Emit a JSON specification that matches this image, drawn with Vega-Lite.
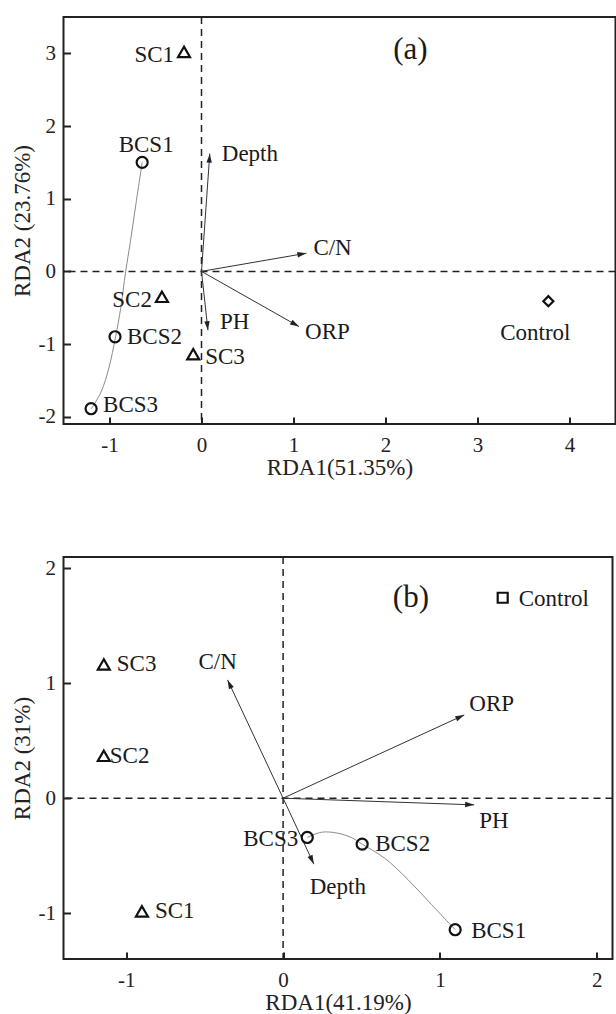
{
  "$schema": "https://vega.github.io/schema/vega-lite/v6.json",
  "background": "white",
  "padding": {"left": 9.5, "top": 15, "right": 0, "bottom": 0},
  "spacing": 75,
  "resolve": {"scale": {"shape": "independent", "size": "independent"}},
  "config": {
    "view": {"stroke": "#222", "strokeWidth": 2},
    "font": "Liberation Serif",
    "text": {"font": "Liberation Serif"},
    "axis": {"domain": false, "grid": false, "tickSize": -7, "tickWidth": 2, "tickColor": "#222", "labelFont": "Liberation Serif", "labelFontSize": 21, "labelColor": "#222", "titleFont": "Liberation Serif", "titleFontSize": 23, "titleFontWeight": "normal", "titleColor": "#222", "labelExpr": "toString(datum.value)"},
    "axisX": {"labelPadding": 17, "titlePadding": 1, "labelFont": "Liberation Serif"},
    "axisY": {"labelPadding": 15, "titlePadding": 4, "labelFont": "Liberation Serif"}
  },
  "datasets": {
    "a": [
      {"name": "SC1", "kind": "site", "type": "SC", "rda1": -0.19, "rda2": 3.02},
      {"name": "BCS1", "kind": "site", "type": "BCS", "rda1": -0.645, "rda2": 1.5},
      {"name": "SC2", "kind": "site", "type": "SC", "rda1": -0.43, "rda2": -0.35},
      {"name": "BCS2", "kind": "site", "type": "BCS", "rda1": -0.94, "rda2": -0.9},
      {"name": "SC3", "kind": "site", "type": "SC", "rda1": -0.09, "rda2": -1.14},
      {"name": "BCS3", "kind": "site", "type": "BCS", "rda1": -1.2, "rda2": -1.89},
      {"name": "Control", "kind": "site", "type": "Control", "rda1": 3.77, "rda2": -0.41},
      {"name": "Depth", "kind": "env", "type": "env", "rda1": 0.09, "rda2": 1.62},
      {"name": "C/N", "kind": "env", "type": "env", "rda1": 1.14, "rda2": 0.25},
      {"name": "PH", "kind": "env", "type": "env", "rda1": 0.07, "rda2": -0.81},
      {"name": "ORP", "kind": "env", "type": "env", "rda1": 1.06, "rda2": -0.76}
    ],
    "ac": [
      {"order": 1, "rda1": -0.645, "rda2": 1.5},
      {"order": 2, "rda1": -0.709, "rda2": 0.96},
      {"order": 3, "rda1": -0.773, "rda2": 0.41},
      {"order": 4, "rda1": -0.824, "rda2": 0.0},
      {"order": 5, "rda1": -0.879, "rda2": -0.51},
      {"order": 6, "rda1": -0.934, "rda2": -0.9},
      {"order": 7, "rda1": -1.007, "rda2": -1.33},
      {"order": 8, "rda1": -1.092, "rda2": -1.66},
      {"order": 9, "rda1": -1.198, "rda2": -1.89}
    ],
    "atag": [{"label": "(a)", "rda1": 2.27, "rda2": 3.04}],
    "b": [
      {"name": "Control", "kind": "site", "type": "Control", "rda1": 1.4, "rda2": 1.745},
      {"name": "SC3", "kind": "site", "type": "SC", "rda1": -1.143, "rda2": 1.165},
      {"name": "SC2", "kind": "site", "type": "SC", "rda1": -1.143, "rda2": 0.369},
      {"name": "SC1", "kind": "site", "type": "SC", "rda1": -0.9, "rda2": -0.985},
      {"name": "BCS3", "kind": "site", "type": "BCS", "rda1": 0.154, "rda2": -0.342},
      {"name": "BCS2", "kind": "site", "type": "BCS", "rda1": 0.504, "rda2": -0.4},
      {"name": "BCS1", "kind": "site", "type": "BCS", "rda1": 1.097, "rda2": -1.145},
      {"name": "C/N", "kind": "env", "type": "env", "rda1": -0.354, "rda2": 1.03},
      {"name": "ORP", "kind": "env", "type": "env", "rda1": 1.155, "rda2": 0.725},
      {"name": "PH", "kind": "env", "type": "env", "rda1": 1.218, "rda2": -0.058},
      {"name": "Depth", "kind": "env", "type": "env", "rda1": 0.196, "rda2": -0.574}
    ],
    "bc": [
      {"order": 1, "rda1": 0.154, "rda2": -0.342},
      {"order": 2, "rda1": 0.246, "rda2": -0.296},
      {"order": 3, "rda1": 0.346, "rda2": -0.304},
      {"order": 4, "rda1": 0.434, "rda2": -0.342},
      {"order": 5, "rda1": 0.504, "rda2": -0.4},
      {"order": 6, "rda1": 0.647, "rda2": -0.522},
      {"order": 7, "rda1": 0.797, "rda2": -0.71},
      {"order": 8, "rda1": 0.947, "rda2": -0.927},
      {"order": 9, "rda1": 1.097, "rda2": -1.145}
    ],
    "btag": [{"label": "(b)", "rda1": 0.815, "rda2": 1.745}]
  },
  "vconcat": [
    {
      "width": 552,
      "height": 407,
      "layer": [
        {"data": {"name": "ac"}, "mark": {"type": "line", "interpolate": "catmull-rom", "color": "#8a8a8a", "strokeWidth": 1},
         "encoding": {
           "x": {"field": "rda1", "type": "quantitative", "scale": {"domain": [-1.5, 4.5], "nice": false, "zero": false}, "axis": {"values": [-1, 0, 1, 2, 3, 4], "title": "RDA1(51.35%)"}},
           "y": {"field": "rda2", "type": "quantitative", "scale": {"domain": [-2.1, 3.5], "nice": false, "zero": false}, "axis": {"values": [-2, -1, 0, 1, 2, 3], "title": "RDA2 (23.76%)"}},
           "order": {"field": "order", "type": "quantitative"}}},
        {"data": {"name": "atag"}, "mark": {"type": "rule", "strokeDash": [7, 5], "strokeWidth": 1.5, "color": "#222"},
         "encoding": {"x": {"datum": 0, "type": "quantitative"}}},
        {"data": {"name": "atag"}, "mark": {"type": "rule", "strokeDash": [7, 5], "strokeWidth": 1.5, "color": "#222"},
         "encoding": {"y": {"datum": 0, "type": "quantitative"}}},
        {"data": {"name": "a"}, "transform": [{"filter": "datum.kind === 'env'"}],
         "mark": {"type": "rule", "color": "#333", "strokeWidth": 1},
         "encoding": {
           "x": {"field": "rda1", "type": "quantitative", "scale": {"domain": [-1.5, 4.5], "nice": false, "zero": false}},
           "y": {"field": "rda2", "type": "quantitative", "scale": {"domain": [-2.1, 3.5], "nice": false, "zero": false}},
           "x2": {"datum": 0}, "y2": {"datum": 0}}},
        {"data": {"name": "a"}, "transform": [{"filter": "datum.kind === 'env'"}, {"calculate": "atan2(datum.rda1 * 92, datum.rda2 * 72.68) * 180 / PI", "as": "ang"}],
         "mark": {"type": "point", "filled": true, "shape": "M0,0L0.3,1L-0.3,1Z", "size": 324, "color": "#222", "opacity": 1},
         "encoding": {
           "x": {"field": "rda1", "type": "quantitative", "scale": {"domain": [-1.5, 4.5], "nice": false, "zero": false}},
           "y": {"field": "rda2", "type": "quantitative", "scale": {"domain": [-2.1, 3.5], "nice": false, "zero": false}},
           "angle": {"field": "ang", "type": "quantitative", "scale": null}}},
        {"data": {"name": "a"}, "transform": [{"filter": "datum.kind === 'site'"}],
         "mark": {"type": "point", "filled": false, "strokeWidth": 2.2, "color": "#111", "opacity": 1},
         "encoding": {
           "x": {"field": "rda1", "type": "quantitative", "scale": {"domain": [-1.5, 4.5], "nice": false, "zero": false}},
           "y": {"field": "rda2", "type": "quantitative", "scale": {"domain": [-2.1, 3.5], "nice": false, "zero": false}},
           "shape": {"field": "type", "type": "nominal", "scale": {"domain": ["SC", "BCS", "Control"], "range": ["triangle-up", "circle", "diamond"]}, "legend": null},
           "size": {"field": "type", "type": "nominal", "scale": {"domain": ["SC", "BCS", "Control"], "range": [144, 100, 256]}, "legend": null}}},
        {"data": {"name": "a"}, "transform": [{"filter": "indexof(['SC1','SC2'], datum.name) >= 0"}],
         "mark": {"type": "text", "align": "right", "baseline": "middle", "dx": -10, "dy": 3, "fontSize": 23, "font": "Liberation Serif", "color": "#1a1a1a"},
         "encoding": {"x": {"field": "rda1", "type": "quantitative"}, "y": {"field": "rda2", "type": "quantitative"}, "text": {"field": "name"}}},
        {"data": {"name": "a"}, "transform": [{"filter": "datum.name === 'BCS1'"}],
         "mark": {"type": "text", "align": "center", "baseline": "middle", "dx": 4, "dy": -17, "fontSize": 23, "font": "Liberation Serif", "color": "#1a1a1a"},
         "encoding": {"x": {"field": "rda1", "type": "quantitative"}, "y": {"field": "rda2", "type": "quantitative"}, "text": {"field": "name"}}},
        {"data": {"name": "a"}, "transform": [{"filter": "datum.name === 'BCS2' || datum.name === 'Depth'"}],
         "mark": {"type": "text", "align": "left", "baseline": "middle", "dx": 12, "dy": 0, "fontSize": 23, "font": "Liberation Serif", "color": "#1a1a1a"},
         "encoding": {"x": {"field": "rda1", "type": "quantitative"}, "y": {"field": "rda2", "type": "quantitative"}, "text": {"field": "name"}}},
        {"data": {"name": "a"}, "transform": [{"filter": "datum.name === 'SC3'"}],
         "mark": {"type": "text", "align": "left", "baseline": "middle", "dx": 12, "dy": 3, "fontSize": 23, "font": "Liberation Serif", "color": "#1a1a1a"},
         "encoding": {"x": {"field": "rda1", "type": "quantitative"}, "y": {"field": "rda2", "type": "quantitative"}, "text": {"field": "name"}}},
        {"data": {"name": "a"}, "transform": [{"filter": "datum.name === 'BCS3'"}],
         "mark": {"type": "text", "align": "left", "baseline": "middle", "dx": 12, "dy": -4, "fontSize": 23, "font": "Liberation Serif", "color": "#1a1a1a"},
         "encoding": {"x": {"field": "rda1", "type": "quantitative"}, "y": {"field": "rda2", "type": "quantitative"}, "text": {"field": "name"}}},
        {"data": {"name": "a"}, "transform": [{"filter": "datum.name === 'Control'"}],
         "mark": {"type": "text", "align": "center", "baseline": "middle", "dx": -13, "dy": 32, "fontSize": 23, "font": "Liberation Serif", "color": "#1a1a1a"},
         "encoding": {"x": {"field": "rda1", "type": "quantitative"}, "y": {"field": "rda2", "type": "quantitative"}, "text": {"field": "name"}}},
        {"data": {"name": "a"}, "transform": [{"filter": "datum.name === 'C/N'"}],
         "mark": {"type": "text", "align": "left", "baseline": "middle", "dx": 7, "dy": -5, "fontSize": 23, "font": "Liberation Serif", "color": "#1a1a1a"},
         "encoding": {"x": {"field": "rda1", "type": "quantitative"}, "y": {"field": "rda2", "type": "quantitative"}, "text": {"field": "name"}}},
        {"data": {"name": "a"}, "transform": [{"filter": "datum.name === 'PH'"}],
         "mark": {"type": "text", "align": "left", "baseline": "middle", "dx": 12, "dy": -8, "fontSize": 23, "font": "Liberation Serif", "color": "#1a1a1a"},
         "encoding": {"x": {"field": "rda1", "type": "quantitative"}, "y": {"field": "rda2", "type": "quantitative"}, "text": {"field": "name"}}},
        {"data": {"name": "a"}, "transform": [{"filter": "datum.name === 'ORP'"}],
         "mark": {"type": "text", "align": "left", "baseline": "middle", "dx": 6, "dy": 5, "fontSize": 23, "font": "Liberation Serif", "color": "#1a1a1a"},
         "encoding": {"x": {"field": "rda1", "type": "quantitative"}, "y": {"field": "rda2", "type": "quantitative"}, "text": {"field": "name"}}},
        {"data": {"name": "atag"},
         "mark": {"type": "text", "align": "center", "baseline": "middle", "fontSize": 31, "font": "Liberation Serif", "color": "#1a1a1a"},
         "encoding": {"x": {"field": "rda1", "type": "quantitative"}, "y": {"field": "rda2", "type": "quantitative"}, "text": {"field": "label"}}}
      ]
    },
    {
      "width": 549,
      "height": 402,
      "layer": [
        {"data": {"name": "bc"}, "mark": {"type": "line", "interpolate": "catmull-rom", "color": "#8a8a8a", "strokeWidth": 1},
         "encoding": {
           "x": {"field": "rda1", "type": "quantitative", "scale": {"domain": [-1.4, 2.1], "nice": false, "zero": false}, "axis": {"values": [-1, 0, 1, 2], "title": "RDA1(41.19%)"}},
           "y": {"field": "rda2", "type": "quantitative", "scale": {"domain": [-1.4, 2.1], "nice": false, "zero": false}, "axis": {"values": [-1, 0, 1, 2], "title": "RDA2 (31%)"}},
           "order": {"field": "order", "type": "quantitative"}}},
        {"data": {"name": "btag"}, "mark": {"type": "rule", "strokeDash": [7, 5], "strokeWidth": 1.5, "color": "#222"},
         "encoding": {"x": {"datum": 0, "type": "quantitative"}}},
        {"data": {"name": "btag"}, "mark": {"type": "rule", "strokeDash": [7, 5], "strokeWidth": 1.5, "color": "#222"},
         "encoding": {"y": {"datum": 0, "type": "quantitative"}}},
        {"data": {"name": "b"}, "transform": [{"filter": "datum.kind === 'env'"}],
         "mark": {"type": "rule", "color": "#333", "strokeWidth": 1},
         "encoding": {
           "x": {"field": "rda1", "type": "quantitative", "scale": {"domain": [-1.4, 2.1], "nice": false, "zero": false}},
           "y": {"field": "rda2", "type": "quantitative", "scale": {"domain": [-1.4, 2.1], "nice": false, "zero": false}},
           "x2": {"datum": 0}, "y2": {"datum": 0}}},
        {"data": {"name": "b"}, "transform": [{"filter": "datum.kind === 'env'"}, {"calculate": "atan2(datum.rda1 * 156.9, datum.rda2 * 114.9) * 180 / PI", "as": "ang"}],
         "mark": {"type": "point", "filled": true, "shape": "M0,0L0.3,1L-0.3,1Z", "size": 324, "color": "#222", "opacity": 1},
         "encoding": {
           "x": {"field": "rda1", "type": "quantitative", "scale": {"domain": [-1.4, 2.1], "nice": false, "zero": false}},
           "y": {"field": "rda2", "type": "quantitative", "scale": {"domain": [-1.4, 2.1], "nice": false, "zero": false}},
           "angle": {"field": "ang", "type": "quantitative", "scale": null}}},
        {"data": {"name": "b"}, "transform": [{"filter": "datum.kind === 'site'"}],
         "mark": {"type": "point", "filled": false, "strokeWidth": 2.2, "color": "#111", "opacity": 1},
         "encoding": {
           "x": {"field": "rda1", "type": "quantitative", "scale": {"domain": [-1.4, 2.1], "nice": false, "zero": false}},
           "y": {"field": "rda2", "type": "quantitative", "scale": {"domain": [-1.4, 2.1], "nice": false, "zero": false}},
           "shape": {"field": "type", "type": "nominal", "scale": {"domain": ["SC", "BCS", "Control"], "range": ["triangle-up", "circle", "square"]}, "legend": null},
           "size": {"field": "type", "type": "nominal", "scale": {"domain": ["SC", "BCS", "Control"], "range": [144, 100, 81]}, "legend": null}}},
        {"data": {"name": "b"}, "transform": [{"filter": "indexof(['Control','BCS1'], datum.name) >= 0"}],
         "mark": {"type": "text", "align": "left", "baseline": "middle", "dx": 16, "dy": 1, "fontSize": 23, "font": "Liberation Serif", "color": "#1a1a1a"},
         "encoding": {"x": {"field": "rda1", "type": "quantitative"}, "y": {"field": "rda2", "type": "quantitative"}, "text": {"field": "name"}}},
        {"data": {"name": "b"}, "transform": [{"filter": "indexof(['SC3','SC1','BCS2'], datum.name) >= 0"}],
         "mark": {"type": "text", "align": "left", "baseline": "middle", "dx": 13, "dy": 0, "fontSize": 23, "font": "Liberation Serif", "color": "#1a1a1a"},
         "encoding": {"x": {"field": "rda1", "type": "quantitative"}, "y": {"field": "rda2", "type": "quantitative"}, "text": {"field": "name"}}},
        {"data": {"name": "b"}, "transform": [{"filter": "datum.name === 'SC2'"}],
         "mark": {"type": "text", "align": "left", "baseline": "middle", "dx": 6, "dy": 0, "fontSize": 23, "font": "Liberation Serif", "color": "#1a1a1a"},
         "encoding": {"x": {"field": "rda1", "type": "quantitative"}, "y": {"field": "rda2", "type": "quantitative"}, "text": {"field": "name"}}},
        {"data": {"name": "b"}, "transform": [{"filter": "datum.name === 'BCS3'"}],
         "mark": {"type": "text", "align": "right", "baseline": "middle", "dx": -9, "dy": 2, "fontSize": 23, "font": "Liberation Serif", "color": "#1a1a1a"},
         "encoding": {"x": {"field": "rda1", "type": "quantitative"}, "y": {"field": "rda2", "type": "quantitative"}, "text": {"field": "name"}}},
        {"data": {"name": "b"}, "transform": [{"filter": "datum.name === 'C/N'"}],
         "mark": {"type": "text", "align": "center", "baseline": "middle", "dx": -10, "dy": -18, "fontSize": 23, "font": "Liberation Serif", "color": "#1a1a1a"},
         "encoding": {"x": {"field": "rda1", "type": "quantitative"}, "y": {"field": "rda2", "type": "quantitative"}, "text": {"field": "name"}}},
        {"data": {"name": "b"}, "transform": [{"filter": "datum.name === 'ORP'"}],
         "mark": {"type": "text", "align": "left", "baseline": "middle", "dx": 5, "dy": -11, "fontSize": 23, "font": "Liberation Serif", "color": "#1a1a1a"},
         "encoding": {"x": {"field": "rda1", "type": "quantitative"}, "y": {"field": "rda2", "type": "quantitative"}, "text": {"field": "name"}}},
        {"data": {"name": "b"}, "transform": [{"filter": "datum.name === 'PH'"}],
         "mark": {"type": "text", "align": "left", "baseline": "middle", "dx": 5, "dy": 16, "fontSize": 23, "font": "Liberation Serif", "color": "#1a1a1a"},
         "encoding": {"x": {"field": "rda1", "type": "quantitative"}, "y": {"field": "rda2", "type": "quantitative"}, "text": {"field": "name"}}},
        {"data": {"name": "b"}, "transform": [{"filter": "datum.name === 'Depth'"}],
         "mark": {"type": "text", "align": "center", "baseline": "middle", "dx": 24, "dy": 23, "fontSize": 23, "font": "Liberation Serif", "color": "#1a1a1a"},
         "encoding": {"x": {"field": "rda1", "type": "quantitative"}, "y": {"field": "rda2", "type": "quantitative"}, "text": {"field": "name"}}},
        {"data": {"name": "btag"},
         "mark": {"type": "text", "align": "center", "baseline": "middle", "fontSize": 31, "font": "Liberation Serif", "color": "#1a1a1a"},
         "encoding": {"x": {"field": "rda1", "type": "quantitative"}, "y": {"field": "rda2", "type": "quantitative"}, "text": {"field": "label"}}}
      ]
    }
  ]
}
